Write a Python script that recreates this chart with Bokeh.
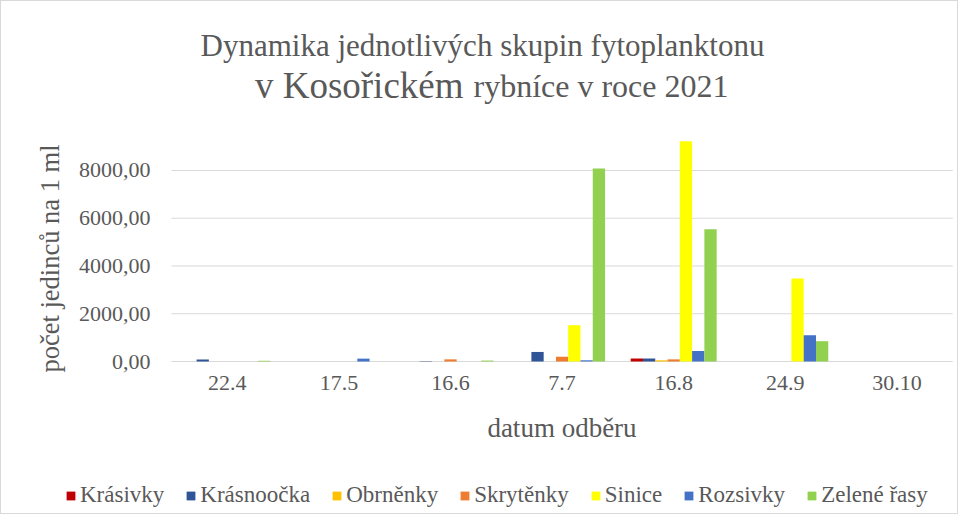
from bokeh.plotting import figure
from bokeh.models import (Range1d, Legend, LegendItem, Label,
                          FixedTicker, ColumnDataSource)
from bokeh.transform import dodge
from bokeh.embed import file_html
from bokeh.resources import INLINE

# ---- data ----
dates = ["22.4", "17.5", "16.6", "7.7", "16.8", "24.9", "30.10"]
series_names = ["Krásivky", "Krásnoočka", "Obrněnky", "Skrytěnky", "Sinice", "Rozsivky", "Zelené řasy"]
krasivky   = [0, 0, 0, 0, 125, 0, 0]
krasnoocka = [80, 0, 15, 400, 125, 0, 0]
obrnenky   = [0, 0, 0, 0, 50, 0, 0]
skrytenky  = [0, 0, 90, 200, 90, 0, 0]
sinice     = [0, 0, 0, 1520, 9230, 3475, 0]
rozsivky   = [0, 120, 0, 50, 440, 1100, 0]
zelene     = [30, 0, 40, 8080, 5540, 850, 0]
colors = ["#C00000", "#2F5597", "#FFC000", "#ED7D31", "#FFFF00", "#4472C4", "#92D050"]
y_ticks = [0, 2000, 4000, 6000, 8000]
y_tick_labels = ["0,00", "2000,00", "4000,00", "6000,00", "8000,00"]

title_line1 = "Dynamika jednotlivých skupin fytoplanktonu"
title_line2a = "v Kosořickém"
title_line2b = "rybníce v roce 2021"
x_title = "datum odběru"
y_title = "počet jedinců na 1 ml"

FONT = "Liberation Serif"
GREY = "#595959"
GRID = "#D9D9D9"

n = len(dates)
idx = list(range(n))
values = [krasivky, krasnoocka, obrnenky, skrytenky, sinice, rozsivky, zelene]
data = {"x": idx}
keys = []
for i, v in enumerate(values):
    k = "s%d" % i
    data[k] = v
    keys.append(k)
source = ColumnDataSource(data)

W, H = 958, 514
# the frame covers the whole canvas; axes are pinned inside it
p = figure(x_range=Range1d(-2.023, 6.561), y_range=Range1d(-6450, 15078),
           width=W, height=H, output_backend="svg", toolbar_location=None,
           title=None, min_border=0)
p.outline_line_color = None
p.background_fill_color = "white"
p.border_fill_color = "white"
p.xgrid.grid_line_color = None
p.ygrid.grid_line_color = None

# value gridlines limited to the category area
p.segment(x0=[-0.5] * len(y_ticks), x1=[n - 0.5] * len(y_ticks), y0=y_ticks, y1=y_ticks,
          line_color=GRID, line_width=1)

bw = 0.11
items = []
for i, k in enumerate(keys):
    r = p.vbar(x=dodge("x", (i - 3) * bw), top=k, width=bw,
               source=source, fill_color=colors[i], line_color=None)
    items.append(LegendItem(label=series_names[i], renderers=[r]))

# y axis
ya = p.yaxis[0]
ya.fixed_location = -0.5
ya.ticker = FixedTicker(ticks=y_ticks)
ya.major_label_overrides = {t: l for t, l in zip(y_ticks, y_tick_labels)}
ya.axis_line_color = None
ya.major_tick_line_color = None
ya.minor_tick_line_color = None
ya.major_tick_out = 0
ya.major_tick_in = 0
ya.major_label_standoff = 21
ya.major_label_text_font = FONT
ya.major_label_text_font_size = "22px"
ya.major_label_text_color = GREY
ya.axis_label = y_title
ya.axis_label_text_font = FONT
ya.axis_label_text_font_size = "26.5px"
ya.axis_label_text_font_style = "normal"
ya.axis_label_text_color = GREY
ya.axis_label_standoff = 11

# x axis
xa = p.xaxis[0]
xa.fixed_location = 0
xa.bounds = (-0.5, n - 0.5)
xa.ticker = FixedTicker(ticks=idx)
xa.major_label_overrides = {i: d for i, d in zip(idx, dates)}
xa.axis_line_color = None
xa.major_tick_line_color = None
xa.minor_tick_line_color = None
xa.major_tick_out = 0
xa.major_tick_in = 0
xa.major_label_standoff = 14
xa.major_label_text_font = FONT
xa.major_label_text_font_size = "22px"
xa.major_label_text_color = GREY
xa.axis_label = x_title
xa.axis_label_text_font = FONT
xa.axis_label_text_font_size = "27px"
xa.axis_label_text_font_style = "normal"
xa.axis_label_text_color = GREY
xa.axis_label_standoff = 20

legend = Legend(items=items, orientation="horizontal", location=(64, 7),
                glyph_width=11, glyph_height=11, label_standoff=4, spacing=21,
                padding=0, margin=0, border_line_color=None,
                background_fill_alpha=0, label_text_font=FONT,
                label_text_font_size="23px", label_text_color=GREY)
p.add_layout(legend, "center")

# chart titles
p.add_layout(Label(x=481, y=H - 44, x_units="screen", y_units="screen", text=title_line1,
                   text_align="center", text_baseline="alphabetic", text_font=FONT,
                   text_font_size="31px", text_color=GREY))
p.add_layout(Label(x=462, y=H - 84, x_units="screen", y_units="screen", text=title_line2a,
                   text_align="right", text_baseline="alphabetic", text_font=FONT,
                   text_font_size="37px", text_color=GREY))
p.add_layout(Label(x=472, y=H - 84, x_units="screen", y_units="screen", text=title_line2b,
                   text_align="left", text_baseline="alphabetic", text_font=FONT,
                   text_font_size="32px", text_color=GREY))

p.styles = {"border": "1px solid #D9D9D9"}

open("out.html", "w").write(file_html(p, INLINE))
